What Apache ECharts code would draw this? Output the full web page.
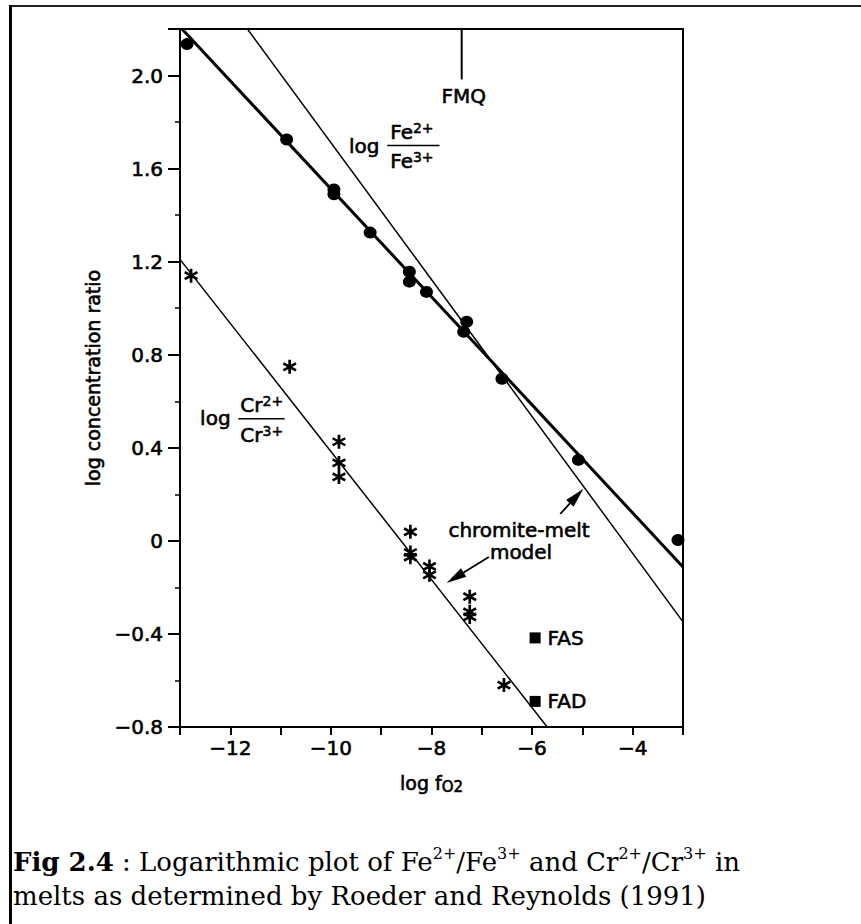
<!DOCTYPE html>
<html><head><meta charset="utf-8">
<script src="https://cdn.jsdelivr.net/npm/echarts@6/dist/echarts.min.js"></script>
<style>html,body{margin:0;padding:0;background:#fff}#c{width:861px;height:924px}</style>
</head><body><div id="c"></div>
<script>
// ---- data ----
const feRatio = [[-12.86,2.135],[-10.88,1.725],[-9.94,1.51],[-9.94,1.49],[-9.22,1.325],[-8.44,1.157],[-8.44,1.114],[-8.1,1.07],[-7.3,0.942],[-7.36,0.899],[-6.6,0.697],[-5.08,0.348],[-3.1,0.004]];
const crRatio = [[-12.78,1.14],[-10.82,0.748],[-9.84,0.426],[-9.84,0.335],[-9.84,0.275],[-8.42,0.039],[-8.42,-0.05],[-8.42,-0.07],[-8.04,-0.11],[-8.04,-0.146],[-7.24,-0.24],[-7.24,-0.305],[-7.24,-0.327],[-6.56,-0.62]];
const bufferPoints = [[-5.94,-0.417,'FAS'],[-5.94,-0.69,'FAD']];
const feFit = [[-12.96,2.2],[-3,-0.112]];
const modelLine = [[-11.66,2.2],[-3,-0.348]];
const crFit = [[-13,1.21],[-5.7,-0.8]];
const fmqMark = [[-7.4,2.2],[-7.4,1.983]];
const yTickValues = [-0.8,-0.4,0,0.4,0.8,1.2,1.6,2.0];
const yTickLabels = ['\u22120.8','\u22120.4','0','0.4','0.8','1.2','1.6','2.0'];
const xTickValues = [-12,-10,-8,-6,-4];
const xTickLabels = ['\u221212','\u221210','\u22128','\u22126','\u22124'];

// ---- annotation anchors (data coordinates) ----
const ann = {
  fmq: [-7.36, 1.91],
  feLog: [-9.64, 1.695], feNum: [-8.82, 1.759], feBar: [[-8.88,1.699],[-7.84,1.699]], feDen: [-8.82, 1.634],
  crLog: [-12.6, 0.529], crNum: [-11.8, 0.585], crBar: [[-11.84,0.525],[-10.92,0.525]], crDen: [-11.8, 0.456],
  chromite: [-6.26, 0.047], model: [-6.22, -0.047],
  arrow1: [[-5.44,0.116],[-4.98,0.224]],
  arrow2: [[-6.86,-0.069],[-7.7,-0.181]]
};

const FONT = 'DejaVu Sans';
const SERIF = 'DejaVu Serif';
const ASTER = 'path://M-1.2,6.5L1.2,6.5L1.2,-6.5L-1.2,-6.5Z M5.029,4.289L6.229,2.211L-5.029,-4.289L-6.229,-2.211Z M-6.229,2.211L-5.029,4.289L6.229,-2.211L5.029,-4.289Z';
const INK = {textBorderColor:'#000', textBorderWidth:0.6};

const chart = echarts.init(document.getElementById('c'), null, {renderer:'svg', width:861, height:924});

const lineSer = (data, w) => ({type:'line', data, symbol:'none', silent:true, z:2,
  lineStyle:{color:'#000', width:w}, clip:true});

chart.setOption({
  animation:false,
  backgroundColor:'#fff',
  grid:{left:180, right:178, top:29, bottom:197, show:true, borderColor:'#000', borderWidth:2, containLabel:false, outerBoundsMode:'none'},
  xAxis:{type:'value', min:-13, max:-3, interval:1,
    name:'{a|log f}{b|O2}', nameLocation:'middle', nameGap:45,
    nameTextStyle:{rich:{a:Object.assign({fontFamily:FONT, fontSize:19, color:'#000', lineHeight:22}, INK),
                         b:Object.assign({fontFamily:FONT, fontSize:15, color:'#000', verticalAlign:'bottom', lineHeight:15}, INK)}},
    axisLine:{onZero:false, lineStyle:{color:'#000', width:2}},
    axisTick:{length:8, lineStyle:{color:'#000', width:2}},
    axisLabel:Object.assign({margin:11, fontFamily:FONT, fontSize:20, color:'#000',
      formatter: v => { const i = xTickValues.findIndex(t => Math.abs(t-v)<1e-6); return i>=0 ? xTickLabels[i] : ''; }}, INK),
    splitLine:{show:false}},
  yAxis:{type:'value', min:-0.8, max:2.2, interval:0.4,
    name:'log concentration ratio', nameLocation:'middle', nameGap:73,
    nameTextStyle:Object.assign({fontFamily:FONT, fontSize:19, color:'#000'}, INK),
    axisLine:{onZero:false, lineStyle:{color:'#000', width:2}},
    axisTick:{length:12, lineStyle:{color:'#000', width:2}},
    minorTick:{show:true, splitNumber:2, length:5, lineStyle:{color:'#000', width:1.5}},
    axisLabel:Object.assign({margin:17, fontFamily:FONT, fontSize:20, color:'#000',
      formatter: v => { const i = yTickValues.findIndex(t => Math.abs(t-v)<1e-6); return i>=0 ? yTickLabels[i] : ''; }}, INK),
    splitLine:{show:false}, minorSplitLine:{show:false}},
  series:[
    lineSer(feFit, 3),
    lineSer(modelLine, 1.5),
    lineSer(crFit, 1.5),
    lineSer(fmqMark, 2),
    {type:'scatter', data:feRatio, symbol:'circle', symbolSize:[13,12], itemStyle:{color:'#000', opacity:1}, z:5},
    {type:'scatter', data:crRatio, symbol:ASTER, symbolSize:14, itemStyle:{color:'#000', opacity:1}, z:5},
    {type:'scatter', data:bufferPoints, symbol:'rect', symbolSize:11, itemStyle:{color:'#000', opacity:1}, z:5,
      label:Object.assign({show:true, position:'right', distance:7, formatter:p => p.data[2], fontFamily:FONT, fontSize:20, color:'#000', opacity:1}, INK)}
  ]
});

const P = c => chart.convertToPixel({gridIndex:0}, c);
const txt = (pos, text, align, size) => {
  const p = P(pos);
  return {type:'text', x:p[0], y:p[1], z:10, style:Object.assign({text, font:size+'px "'+FONT+'"', fill:'#000',
    textAlign:align, textVerticalAlign:'middle'}, {stroke:'#000', lineWidth:0.6})};
};
const supRich = {sup:{fontFamily:FONT, fontSize:14, lineHeight:13, verticalAlign:'top', fill:'#000', stroke:'#000', lineWidth:0.5}};
const ionTxt = (pos, base, charge) => {
  const p = P(pos);
  return {type:'text', x:p[0], y:p[1], z:10, style:{text: base + '{sup|' + charge + '}', font:'20px "'+FONT+'"', fill:'#000',
    stroke:'#000', lineWidth:0.6, lineHeight:22, textAlign:'left', textVerticalAlign:'middle', rich:supRich}};
};
const bar = seg => { const a = P(seg[0]), b = P(seg[1]);
  return {type:'line', z:10, shape:{x1:a[0], y1:a[1], x2:b[0], y2:b[1]}, style:{stroke:'#000', lineWidth:1.5}}; };
const arrow = seg => {
  const a = P(seg[0]), b = P(seg[1]);
  const dx = b[0]-a[0], dy = b[1]-a[1], L = Math.hypot(dx,dy), ux = dx/L, uy = dy/L;
  const hl = 20, hw = 5;
  const bx = b[0]-ux*hl, by = b[1]-uy*hl;
  return [
    {type:'line', z:10, shape:{x1:a[0], y1:a[1], x2:bx, y2:by}, style:{stroke:'#000', lineWidth:1.8}},
    {type:'polygon', z:10, shape:{points:[[b[0],b[1]],[bx-uy*hw, by+ux*hw],[bx+uy*hw, by-ux*hw]]}, style:{fill:'#000'}}
  ];
};

const g = [
  {type:'line', z:20, shape:{x1:9, y1:6, x2:861, y2:6}, style:{stroke:'#222', lineWidth:2}},
  {type:'line', z:20, shape:{x1:10.5, y1:5, x2:10.5, y2:924}, style:{stroke:'#000', lineWidth:3}},
  txt(ann.fmq, 'FMQ', 'center', 20),
  txt(ann.feLog, 'log', 'left', 20), ionTxt(ann.feNum, 'Fe', '2+'), bar(ann.feBar), ionTxt(ann.feDen, 'Fe', '3+'),
  txt(ann.crLog, 'log', 'left', 20), ionTxt(ann.crNum, 'Cr', '2+'), bar(ann.crBar), ionTxt(ann.crDen, 'Cr', '3+'),
  txt(ann.chromite, 'chromite-melt', 'center', 20), txt(ann.model, 'model', 'center', 20),
  ...arrow(ann.arrow1), ...arrow(ann.arrow2),
  {type:'text', x:13, y:879, z:20, style:{
    text:'{b|Fig 2.4} : Logarithmic plot of Fe{s|2+}/Fe{s|3+} and Cr{s|2+}/Cr{s|3+} in\nmelts as determined by Roeder and Reynolds (1991)',
    font:'26px "'+SERIF+'"', fill:'#000', lineHeight:34, textAlign:'left', textVerticalAlign:'middle',
    rich:{b:{fontFamily:SERIF, fontSize:26, fontWeight:'bold', lineHeight:34, fill:'#000'},
          s:{fontFamily:SERIF, fontSize:16, lineHeight:34, verticalAlign:'top', fill:'#000'}}}}
];
chart.setOption({graphic:g});
</script></body></html>
